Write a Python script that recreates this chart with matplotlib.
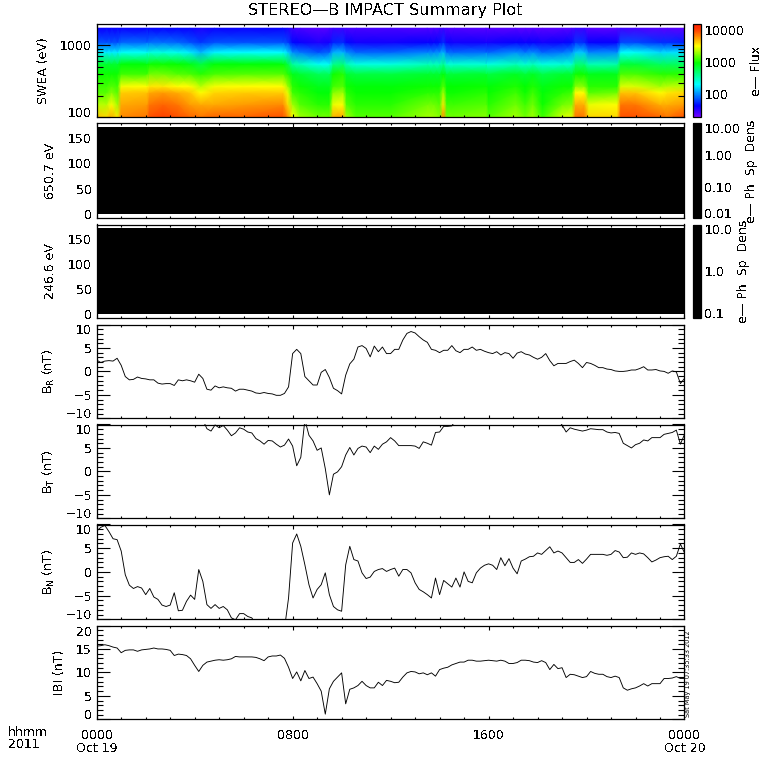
import numpy as np
import matplotlib
matplotlib.use('Agg')
import matplotlib.pyplot as plt
from matplotlib.colors import LinearSegmentedColormap, ListedColormap, LogNorm

## spectrogram time nodes (hours) and energies (eV)
swea_hours = [0, .4, .6, .85, 1.0, 2.05, 2.15, 2.7, 3.3, 3.8, 4.25, 4.8, 6, 7.6, 7.8, 8.0, 8.3, 9.05, 9.5, 9.65,
              10.05, 10.2, 10.6, 12, 13.5, 13.75, 14.0, 14.15, 14.3, 14.6, 15.9, 16, 17.1, 17.5, 17.8, 18.2, 19.0, 19.4, 19.55, 19.9,
              20.1, 21.25, 21.4, 22, 23, 23.3, 24]
swea_energy = [100, 150, 220, 270, 400, 550, 800, 1100, 1720]

## log10 of e- flux at each energy
flux_100 = [3.65, 3.6, 3.7, 3.55, 3.8, 3.85, 3.95, 4.0, 3.95, 3.9, 3.85, 3.9, 3.9, 3.95, 3.8, 3.5, 3.3, 3.2, 3.2, 3.7,
            3.72, 3.3, 3.15, 3.15, 3.3, 3.3, 3.25, 3.8, 3.2, 3.2, 3.25, 3.15, 3.3, 3.2, 3.3, 3.1, 3.4, 3.45, 3.85, 3.85,
            3.6, 3.6, 3.95, 3.95, 3.9, 3.85, 3.95]
flux_150 = [3.35, 3.35, 3.5, 3.3, 3.72, 3.75, 3.85, 3.9, 3.85, 3.75, 3.72, 3.72, 3.75, 3.8, 3.6, 3.3, 3.15, 3.05, 3.05, 3.45,
            3.5, 3.15, 3.05, 3.05, 3.2, 3.2, 3.15, 3.55, 3.1, 3.1, 3.15, 3.05, 3.2, 3.1, 3.2, 3.0, 3.2, 3.25, 3.7, 3.7,
            3.45, 3.5, 3.85, 3.85, 3.7, 3.7, 3.75]
flux_220 = [3.15, 3.15, 3.25, 3.15, 3.62, 3.65, 3.72, 3.75, 3.7, 3.65, 3.5, 3.6, 3.62, 3.62, 3.45, 3.1, 3.05, 2.95, 2.95, 3.25,
            3.3, 3.05, 2.98, 2.98, 3.05, 3.05, 3.05, 3.3, 3.0, 3.0, 3.05, 2.98, 3.1, 3.0, 3.1, 2.95, 3.05, 3.1, 3.5, 3.5,
            3.15, 3.2, 3.65, 3.65, 3.5, 3.55, 3.6]
flux_270 = [3.1, 3.1, 3.15, 3.1, 3.48, 3.5, 3.55, 3.55, 3.5, 3.5, 3.35, 3.48, 3.5, 3.5, 3.3, 3.05, 3.0, 2.9, 2.9, 3.1,
            3.15, 3.0, 2.95, 2.95, 3.0, 3.0, 3.0, 3.15, 2.97, 2.97, 3.0, 2.95, 3.03, 2.97, 3.03, 2.92, 3.0, 3.0, 3.25, 3.25,
            3.05, 3.05, 3.42, 3.42, 3.3, 3.35, 3.35]
flux_400 = [3.0, 3.0, 3.0, 3.0, 3.1, 3.1, 3.2, 3.2, 3.15, 3.12, 3.05, 3.12, 3.15, 3.15, 3.05, 2.9, 2.85, 2.75, 2.75, 3.0,
            3.05, 2.85, 2.8, 2.8, 2.85, 2.85, 2.85, 2.95, 2.82, 2.82, 2.85, 2.8, 2.88, 2.82, 2.88, 2.78, 2.85, 2.85, 3.0, 3.0,
            2.9, 2.9, 3.12, 3.12, 3.05, 3.05, 3.05]
flux_550 = [2.85, 2.85, 2.85, 2.85, 2.95, 2.95, 3.0, 3.0, 2.98, 2.92, 2.8, 2.95, 2.95, 2.95, 2.8, 2.55, 2.48, 2.33, 2.33, 2.6,
            2.65, 2.5, 2.38, 2.38, 2.48, 2.48, 2.48, 2.6, 2.42, 2.42, 2.42, 2.38, 2.48, 2.42, 2.48, 2.38, 2.42, 2.42, 2.66, 2.66,
            2.5, 2.52, 2.82, 2.82, 2.72, 2.72, 2.72]
flux_800 = [2.25, 2.25, 2.25, 2.25, 2.32, 2.32, 2.38, 2.38, 2.35, 2.25, 2.12, 2.28, 2.3, 2.3, 2.2, 2.0, 1.95, 1.85, 1.9, 2.1,
            2.12, 2.0, 1.9, 1.9, 1.98, 1.98, 2.02, 2.12, 1.92, 1.9, 1.92, 1.9, 2.0, 1.95, 2.0, 1.9, 1.95, 2.02, 2.15, 2.15,
            1.98, 2.0, 2.3, 2.32, 2.2, 2.22, 2.22]
flux_1100 = [1.85, 1.85, 1.85, 1.85, 1.9, 1.9, 1.92, 1.92, 1.9, 1.85, 1.78, 1.85, 1.85, 1.85, 1.8, 1.65, 1.6, 1.55, 1.58, 1.72,
             1.74, 1.65, 1.58, 1.58, 1.62, 1.62, 1.66, 1.74, 1.6, 1.58, 1.58, 1.58, 1.62, 1.6, 1.62, 1.58, 1.6, 1.66, 1.76, 1.74,
             1.62, 1.62, 1.82, 1.82, 1.75, 1.75, 1.72]
flux_1720 = [1.6, 1.6, 1.6, 1.6, 1.6, 1.6, 1.62, 1.62, 1.62, 1.6, 1.55, 1.6, 1.6, 1.6, 1.55, 1.45, 1.42, 1.38, 1.4, 1.46,
             1.46, 1.42, 1.42, 1.42, 1.4, 1.4, 1.42, 1.46, 1.4, 1.4, 1.38, 1.38, 1.38, 1.36, 1.38, 1.36, 1.38, 1.4, 1.46, 1.46,
             1.38, 1.38, 1.45, 1.42, 1.38, 1.38, 1.36]

## magnetic field, one value every 10 minutes (12 = off the top of the plot)
b_r = [2.4, 1.9, 2.2, 2.3, 2.2, 2.8, 1.3, -1.1, -1.8, -1.7,
       -1.2, -1.5, -1.6, -1.8, -1.8, -2.5, -2.7, -2.6, -2.6, -3.0,
       -1.8, -2.0, -1.8, -2.0, -2.3, -0.6, -1.5, -3.8, -4.0, -3.1,
       -3.5, -3.3, -3.5, -3.6, -4.2, -3.8, -3.8, -4.0, -4.2, -4.6,
       -4.7, -4.5, -4.7, -4.8, -5.1, -5.1, -4.7, -3.3, 3.8, 4.7,
       3.8, -1.1, -2.0, -2.9, -2.9, -0.2, 0.4, -1.3, -3.6, -4.1,
       -4.8, -0.8, 1.6, 2.6, 5.2, 5.5, 4.9, 3.1, 5.4, 4.2,
       5.2, 3.8, 3.8, 4.7, 4.7, 6.7, 8.1, 8.5, 8.2, 7.4,
       6.7, 6.2, 4.7, 4.5, 4.0, 4.5, 4.5, 5.5, 4.4, 4.0,
       4.7, 4.7, 5.2, 4.5, 4.7, 4.3, 4.0, 3.8, 4.2, 3.5,
       4.0, 3.8, 2.8, 3.9, 4.2, 3.7, 3.5, 3.0, 2.6, 3.0,
       3.8, 2.3, 1.2, 1.7, 1.7, 1.7, 2.1, 2.4, 1.7, 0.8,
       1.9, 1.7, 1.3, 0.8, 0.8, 0.5, 0.4, 0.1, 0.0, 0.0,
       0.1, 0.3, 0.3, 0.6, 1.0, 0.3, 0.3, 0.4, 0.1, 0.0,
       -0.4, 0.1, -0.1, -2.6, -1.5]
b_t = [12, 12, 12, 12, 12, 12, 12, 12, 12, 12,
       12, 12, 12, 12, 12, 12, 12, 12, 12, 12,
       12, 12, 12, 12, 12, 12, 11, 9.1, 8.6, 9.9,
       9.3, 9.8, 8.8, 7.6, 8.2, 9.3, 9.0, 8.4, 8.2, 7.0,
       6.5, 5.8, 6.6, 6.5, 5.8, 5.2, 5.6, 6.9, 5.4, 1.2,
       3.0, 11, 7.7, 6.5, 4.5, 5.0, 0.6, -5.0, -0.6, -0.1,
       1.0, 3.5, 5.1, 3.5, 4.9, 5.4, 5.2, 4.0, 5.4, 4.7,
       5.8, 6.3, 7.2, 6.5, 5.5, 5.5, 5.5, 5.5, 5.4, 4.9,
       6.3, 6.0, 5.6, 8.3, 8.4, 9.6, 9.6, 9.7, 11, 12,
       12, 12, 12, 12, 12, 12, 12, 12, 12, 12,
       12, 12, 12, 12, 12, 12, 12, 12, 12, 12,
       12, 12, 12, 11, 9.9, 8.4, 9.3, 9.0, 8.8, 8.6,
       8.8, 9.1, 9.0, 8.9, 8.9, 8.4, 8.2, 8.3, 8.1, 6.0,
       5.5, 5.0, 5.7, 6.0, 6.7, 6.5, 7.2, 7.2, 7.2, 7.9,
       8.1, 8.3, 8.8, 5.8, 7.9]
b_n = [8.6, 9.4, 9.8, 8.5, 7.0, 6.8, 4.4, -0.6, -2.8, -3.5,
       -3.1, -3.4, -4.8, -3.5, -5.3, -5.8, -7.0, -7.3, -7.0, -4.4,
       -8.2, -8.1, -6.2, -4.9, -5.8, 0.5, -2.0, -6.9, -7.7, -6.9,
       -7.7, -7.3, -8.0, -9.7, -10.1, -8.8, -8.8, -9.4, -9.7, -11,
       -12, -12, -12, -12, -12, -12, -12, -5.5, 6.1, 8.0,
       5.4, 1.5, -2.7, -5.5, -3.7, -2.7, -0.2, -4.8, -7.3, -8.0,
       -8.3, 1.5, 5.4, 2.6, 2.3, -0.2, -1.4, -1.1, 0.1, 0.5,
       0.7, 0.1, 0.5, 0.8, -0.9, 0.5, 0.5, -0.2, -2.3, -3.7,
       -4.2, -4.8, -5.5, -1.3, -4.8, -1.8, -2.5, -3.2, -1.3, -3.2,
       0, -2.0, -2.3, -0.2, 0.8, 1.4, 1.7, 1.4, 0.5, 3.0,
       1.3, 2.8, 0.8, -0.4, 2.3, 2.7, 3.2, 3.3, 4.0, 3.7,
       4.5, 5.3, 4.0, 4.4, 4.0, 3.0, 2.0, 2.0, 2.6, 1.8,
       2.7, 3.7, 3.7, 3.7, 3.7, 3.5, 3.7, 4.5, 4.2, 3.0,
       3.1, 4.0, 3.7, 4.0, 3.8, 3.0, 2.1, 2.5, 3.0, 3.2,
       3.3, 2.6, 3.3, 5.9, 4.0]
b_mag = [15.6, 15.7, 15.9, 15.7, 15.4, 15.2, 14.2, 14.7, 14.8, 14.8,
         14.5, 14.8, 14.9, 15.0, 15.2, 15.0, 15.0, 14.9, 14.7, 13.6,
         13.9, 13.8, 13.6, 12.9, 11.5, 10.2, 11.5, 12.2, 12.4, 12.6,
         12.7, 12.6, 12.7, 12.9, 13.4, 13.3, 13.3, 13.3, 13.3, 13.2,
         12.9, 12.5, 13.3, 13.5, 13.5, 13.7, 13.0, 11.1, 8.7, 10.1,
         8.2, 10.4, 8.7, 9.0, 7.6, 6.0, 1.1, 6.5, 8.1, 9.0,
         9.9, 3.3, 6.4, 6.7, 7.2, 8.1, 7.2, 6.7, 6.7, 7.9,
         7.2, 8.3, 8.1, 7.8, 7.9, 9.0, 9.9, 10.2, 10.1, 9.7,
         9.9, 9.5, 9.9, 9.2, 10.6, 10.9, 11.1, 11.6, 11.9, 12.2,
         12.2, 12.6, 12.6, 12.4, 12.4, 12.5, 12.6, 12.5, 12.4, 12.6,
         12.4, 11.9, 11.9, 12.1, 12.6, 12.6, 12.5, 12.2, 12.1, 12.5,
         12.1, 10.6, 11.7, 10.8, 11.0, 8.9, 9.6, 9.5, 9.2, 8.9,
         9.1, 10.2, 9.8, 9.6, 9.6, 9.1, 8.9, 9.2, 8.9, 6.7,
         6.2, 6.5, 6.7, 7.1, 7.6, 7.1, 7.6, 7.6, 7.6, 8.7,
         8.7, 8.8, 9.1, 8.7, 8.7]
hours = np.arange(len(b_r)) / 6.0

## pitch angle edges for the two empty (all black) panels
pitch_edges = [0, 172]
time_edges = [0, 24]

field_ticks = [-10, -5, 0, 5, 10]
field_labels = ['\u221210', '\u22125', '0', '5', '10']
mag_ticks = [0, 5, 10, 15, 20]
pitch_ticks = [0, 50, 100, 150]
x_ticks = [0, 8, 16, 24]
x_labels = ['0000\nOct 19', '0800', '1600', '0000\nOct 20']

FS = 9
plt.rcParams['font.family'] = 'DejaVu Sans'
plt.rcParams['font.size'] = FS
plt.rcParams['axes.linewidth'] = 0.9
plt.rcParams['mathtext.fontset'] = 'dejavusans'
plt.rcParams['text.antialiased'] = False

W = 780.0
PX = 0.72  # points per pixel at dpi 100
fig = plt.figure(figsize=(7.8, 7.8), dpi=100, facecolor='white')


def make_axes(top, bottom, left=96.7, right=684.5):
    return fig.add_axes([left / W, 1 - bottom / W, (right - left) / W, (bottom - top) / W])


def style_time(ax):
    ax.set_xlim(0, 24)
    ax.set_xticks(x_ticks)
    ax.set_xticks(np.arange(25), minor=True)
    ax.set_xticklabels([])
    ax.tick_params(axis='x', which='major', direction='in', top=True, bottom=True, length=3.5 * PX, width=0.8)
    ax.tick_params(axis='x', which='minor', direction='in', top=True, bottom=True, length=2 * PX, width=0.8)
    ax.tick_params(axis='y', which='major', direction='in', left=True, right=True, length=12.5 * PX, width=0.8, pad=3.5, labelsize=FS)
    ax.tick_params(axis='y', which='minor', direction='in', left=True, right=True, length=6 * PX, width=0.8)


def edge_labels(ax):
    # top and bottom labels sit inside the axes height
    labels = ax.get_yticklabels()
    labels[0].set_va('baseline')
    labels[-1].set_va('top')


def y_title(ax, text, x_px):
    ax.set_ylabel(text, fontsize=FS, va='center')
    ax.yaxis.set_label_coords((x_px - 96.7) / 588.0, 0.5)


rainbow = LinearSegmentedColormap.from_list('rainbow_idl', [
    (0.00, (0.47, 0.0, 1.0)),
    (0.12, (0.0, 0.0, 1.0)),
    (0.35, (0.0, 1.0, 1.0)),
    (0.58, (0.0, 1.0, 0.0)),
    (0.76, (1.0, 1.0, 0.0)),
    (0.86, (1.0, 0.55, 0.0)),
    (0.94, (1.0, 0.22, 0.0)),
    (1.00, (1.0, 0.12, 0.0)),
])

## SWEA spectrogram
log_flux = np.array([flux_100, flux_150, flux_220, flux_270, flux_400, flux_550, flux_800, flux_1100, flux_1720])
ax1 = make_axes(23.5, 117.3)
mesh = ax1.pcolormesh(swea_hours, swea_energy, 10 ** log_flux, shading='gouraud', cmap=rainbow,
                      norm=LogNorm(vmin=10 ** 1.28, vmax=10 ** 4.2), rasterized=True)
ax1.set_yscale('log')
ax1.set_ylim(100, 2000)
style_time(ax1)
ax1.set_yticks([100, 1000])
ax1.set_yticks([200, 300, 400, 500, 600, 700, 800, 900], minor=True)
ax1.set_yticklabels(['100', '1000'])
ax1.set_yticklabels([], minor=True)
ax1.get_yticklabels()[0].set_va('baseline')
y_title(ax1, 'SWEA (eV)', 43)

cax1 = make_axes(23.5, 117.3, 692.5, 700.8)
cb1 = fig.colorbar(mesh, cax=cax1)
cb1.set_ticks([100, 1000, 10000], labels=['100', '1000', '10000'])
cb1.ax.minorticks_off()
cb1.ax.tick_params(length=0, pad=2.5, labelsize=FS)
fig.text(757 / W, 1 - 71 / W, 'e\u2014 Flux', rotation=90, ha='center', va='center', fontsize=FS)

## empty pitch angle panels
black = ListedColormap(['black'])
pad_panels = [(123.5, 218.3, '650.7 eV', [0.01, 0.1, 1, 10], ['0.01', '0.10', '1.00', '10.00'], 752),
              (224.5, 318.3, '246.6 eV', [0.1, 1, 10], ['0.1', '1.0', '10.0'], 743)]
for top, bottom, title, cticks, clabels, text_x in pad_panels:
    ax = make_axes(top, bottom)
    m = ax.pcolormesh(time_edges, pitch_edges, np.full((1, 1), cticks[0]), cmap=black,
                      norm=LogNorm(vmin=cticks[0], vmax=cticks[-1]), rasterized=True)
    ax.set_ylim(-8, 178)
    style_time(ax)
    ax.set_yticks(pitch_ticks)
    ax.set_yticklabels(['0', '50', '100', '150'])
    ax.tick_params(axis='y', which='major', length=0)
    y_title(ax, title, 50)

    cax = make_axes(top, bottom, 692.5, 700.8)
    cb = fig.colorbar(m, cax=cax)
    cb.set_ticks(cticks, labels=clabels)
    cb.ax.minorticks_off()
    cb.ax.tick_params(length=0, pad=2.5, labelsize=FS)
    edge_labels(cb.ax)
    fig.text(text_x / W, 1 - (top + bottom) / 2 / W, 'e\u2014 Ph  Sp  Dens', rotation=90, ha='center', va='center', fontsize=FS)

## field components
field_panels = [(324.5, 418.3, b_r, r'B$_{\rm R}$ (nT)'),
                (424.5, 518.3, b_t, r'B$_{\rm T}$ (nT)'),
                (524.5, 619.3, b_n, r'B$_{\rm N}$ (nT)')]
for top, bottom, values, title in field_panels:
    ax = make_axes(top, bottom)
    ax.plot(hours, values, color='black', lw=0.65)
    ax.set_ylim(-10, 10)
    style_time(ax)
    ax.set_yticks(field_ticks)
    ax.set_yticks([t for t in range(-10, 11) if t % 5 != 0], minor=True)
    ax.set_yticklabels(field_labels)
    edge_labels(ax)
    y_title(ax, title, 49)

## field magnitude
ax7 = make_axes(625.5, 719.3)
ax7.plot(hours, b_mag, color='black', lw=0.65)
ax7.set_ylim(0, 20)
style_time(ax7)
ax7.set_yticks(mag_ticks)
ax7.set_yticks([t for t in range(0, 21) if t % 5 != 0], minor=True)
ax7.set_yticklabels(['0', '5', '10', '15', '20'])
edge_labels(ax7)
y_title(ax7, 'IBI (nT)', 59)
ax7.set_xticklabels(x_labels, fontsize=FS, linespacing=1.0)
ax7.tick_params(axis='x', which='major', pad=7)

fig.text(385.5 / W, 1 - 10 / W, 'STEREO\u2014B IMPACT Summary Plot', ha='center', va='center', fontsize=11.6)
fig.text(8 / W, 1 - 733 / W, 'hhmm', ha='left', va='center', fontsize=FS)
fig.text(8 / W, 1 - 745 / W, '2011', ha='left', va='center', fontsize=FS)
fig.text(688 / W, 1 - 673.5 / W, 'Sat May 19 07:35:33 2012', rotation=90, ha='center', va='center', fontsize=4.7, antialiased=True)

fig.savefig('out.png', dpi=100)
